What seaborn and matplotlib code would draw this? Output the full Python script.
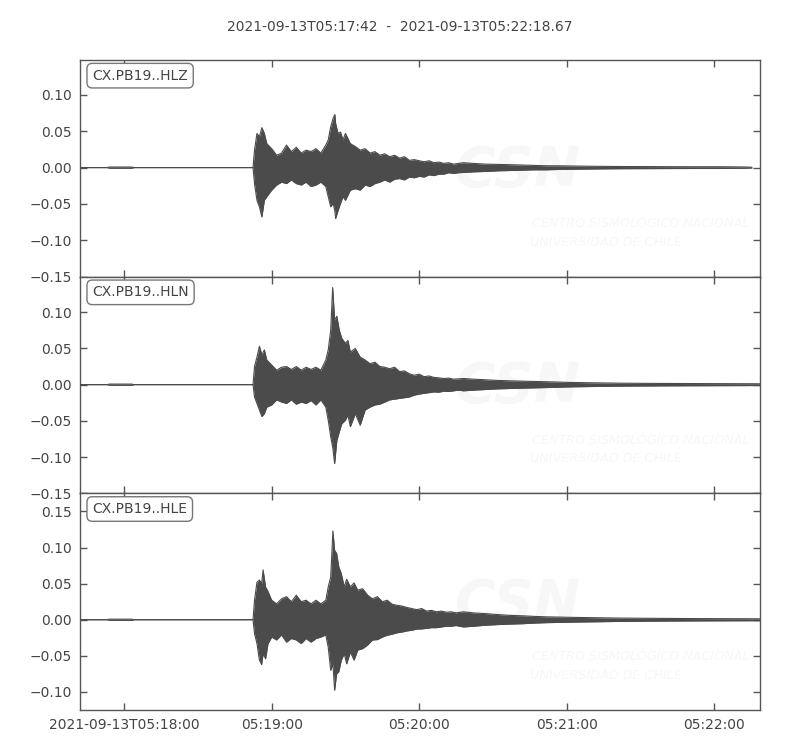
import numpy as np
import pandas as pd
import matplotlib
matplotlib.use("Agg")
import matplotlib.pyplot as plt
import seaborn as sns
from matplotlib.ticker import MultipleLocator

# ---------------- data ----------------
start_time = "2021-09-13 05:17:42"
end_time = "2021-09-13 05:22:18.67"
title_text = "2021-09-13T05:17:42  -  2021-09-13T05:22:18.67"
channels = ["CX.PB19..HLZ", "CX.PB19..HLN", "CX.PB19..HLE"]
y_limits = [(-0.15, 0.148), (-0.15, 0.149), (-0.125, 0.175)]
tick_times = ["2021-09-13 05:18:00", "2021-09-13 05:19:00", "2021-09-13 05:20:00",
              "2021-09-13 05:21:00", "2021-09-13 05:22:00"]
tick_labels = ["2021-09-13T05:18:00", "05:19:00", "05:20:00", "05:21:00", "05:22:00"]

# envelope of each trace: seconds after start, upper and lower amplitude
t_z = [0, 11, 12, 21, 22, 70.4, 71, 72, 73, 74, 75, 76,
       78, 80, 82, 84, 86, 88, 90, 92, 94, 96, 98,
       100, 101, 102, 103, 103.7, 104, 105, 106, 107, 108,
       110, 112, 114, 116, 118, 120, 122, 124, 126, 128, 130, 132, 134, 136, 138, 140,
       142, 144, 146, 148, 150, 152, 154,
       156, 160, 165, 170, 175, 180, 185, 190, 195, 200,
       210, 220, 230, 240, 250, 260, 270, 273.4]
up_z = [0, 0, 0.0008, 0.0008, 0, 0, 0.024, 0.047, 0.0425, 0.055, 0.047, 0.033,
        0.026, 0.017, 0.020, 0.031, 0.022, 0.028, 0.020, 0.024, 0.022, 0.026, 0.020,
        0.031, 0.038, 0.056, 0.068, 0.073, 0.061, 0.047, 0.049, 0.038, 0.047,
        0.033, 0.029, 0.024, 0.026, 0.020, 0.022, 0.017, 0.019, 0.015, 0.017, 0.013, 0.015, 0.010, 0.011, 0.0094, 0.008,
        0.0094, 0.0067, 0.0076, 0.0058, 0.0067, 0.0048, 0.0058,
        0.0067, 0.0058, 0.0048, 0.0044, 0.004, 0.0035, 0.003, 0.0025, 0.0025, 0.0022,
        0.0018, 0.0015, 0.0014, 0.0013, 0.0012, 0.0012, 0.0009, 0.0005]
lo_z = [0, 0, -0.0008, -0.0008, 0, 0, -0.022, -0.045, -0.054, -0.068, -0.045, -0.040,
        -0.031, -0.024, -0.020, -0.022, -0.017, -0.022, -0.024, -0.020, -0.026, -0.024, -0.020,
        -0.026, -0.040, -0.054, -0.049, -0.060, -0.070, -0.059, -0.049, -0.040, -0.045,
        -0.031, -0.029, -0.031, -0.024, -0.026, -0.022, -0.020, -0.017, -0.020, -0.016, -0.015, -0.017, -0.013, -0.014, -0.012, -0.013,
        -0.010, -0.011, -0.009, -0.009, -0.007, -0.008, -0.007,
        -0.0067, -0.0058, -0.0053, -0.0044, -0.004, -0.0035, -0.003, -0.003, -0.0025, -0.0022,
        -0.0018, -0.0015, -0.0014, -0.0013, -0.0012, -0.0012, -0.0009, -0.0005]

t_n = [0, 11, 12, 21, 22, 70.4, 71, 72, 73, 74, 75, 76,
       78, 80, 82, 84, 86, 88, 90, 92, 94, 96, 98,
       100, 101, 102, 102.8, 103.6, 104.5, 105.5, 106.5, 108, 109,
       110, 112, 114, 116, 118, 120, 122, 124, 126, 128, 130, 132, 134, 136, 138, 140,
       142, 144, 146, 148, 150, 152, 154,
       156, 160, 165, 170, 175, 180, 185, 190, 195, 200,
       210, 220, 230, 240, 250, 260, 270, 276.6]
up_n = [0, 0, 0.0008, 0.0008, 0, 0, 0.025, 0.038, 0.053, 0.041, 0.048, 0.034,
        0.027, 0.020, 0.024, 0.025, 0.021, 0.025, 0.020, 0.024, 0.021, 0.024, 0.020,
        0.034, 0.048, 0.075, 0.134, 0.089, 0.0945, 0.075, 0.064, 0.057, 0.061,
        0.045, 0.050, 0.038, 0.034, 0.029, 0.031, 0.025, 0.024, 0.022, 0.024, 0.018, 0.019, 0.015, 0.013, 0.0145, 0.011,
        0.012, 0.010, 0.0094, 0.0085, 0.009, 0.0076, 0.008,
        0.0085, 0.0076, 0.0067, 0.0058, 0.0053, 0.0048, 0.0044, 0.004, 0.0035, 0.003,
        0.0025, 0.002, 0.0018, 0.0016, 0.0015, 0.0014, 0.0013, 0.0012]
lo_n = [0, 0, -0.0008, -0.0008, 0, 0, -0.017, -0.026, -0.035, -0.044, -0.040, -0.031,
        -0.028, -0.021, -0.024, -0.026, -0.021, -0.027, -0.024, -0.026, -0.022, -0.028, -0.021,
        -0.031, -0.049, -0.072, -0.086, -0.109, -0.077, -0.065, -0.054, -0.049, -0.042,
        -0.058, -0.040, -0.056, -0.035, -0.031, -0.028, -0.027, -0.024, -0.021, -0.020, -0.019, -0.018, -0.017, -0.0145, -0.013, -0.012,
        -0.011, -0.010, -0.0104, -0.009, -0.0094, -0.0085, -0.0076,
        -0.0085, -0.0076, -0.0067, -0.0058, -0.0053, -0.0048, -0.0044, -0.004, -0.0035, -0.003,
        -0.0025, -0.002, -0.0018, -0.0016, -0.0015, -0.0014, -0.0013, -0.0012]

t_e = [0, 11, 12, 21, 22, 70.4, 71, 72, 73, 73.9, 74.5, 75.5, 76.5,
       78, 80, 82, 84, 86, 88, 90, 92, 94, 96, 98, 100,
       101, 102, 102.9, 103.6, 104.4, 105.3, 106.3, 107.5, 108.5, 110, 111.5, 113,
       115, 117, 119, 121, 123, 125, 127, 129, 131, 133, 135, 137, 139, 141, 143, 145, 147, 149, 151, 153,
       156, 160, 165, 170, 175, 180, 185, 190, 195, 200,
       210, 220, 230, 240, 250, 260, 270, 276.6]
up_e = [0, 0, 0.0008, 0.0008, 0, 0, 0.027, 0.052, 0.055, 0.050, 0.069, 0.0455, 0.039,
        0.027, 0.022, 0.029, 0.032, 0.025, 0.034, 0.025, 0.027, 0.022, 0.027, 0.022, 0.027,
        0.0455, 0.059, 0.123, 0.096, 0.092, 0.073, 0.064, 0.0455, 0.056, 0.0455, 0.051, 0.041,
        0.043, 0.034, 0.029, 0.032, 0.025, 0.027, 0.0215, 0.020, 0.019, 0.017, 0.0155, 0.014, 0.0155, 0.012, 0.013, 0.011, 0.012, 0.0104, 0.011, 0.0095,
        0.011, 0.0095, 0.0085, 0.0072, 0.006, 0.0055, 0.0046, 0.004, 0.0037, 0.0033,
        0.0028, 0.0023, 0.002, 0.0018, 0.0016, 0.0015, 0.0014, 0.0013]
lo_e = [0, 0, -0.0008, -0.0008, 0, 0, -0.019, -0.033, -0.056, -0.062, -0.047, -0.054, -0.033,
        -0.024, -0.028, -0.021, -0.031, -0.026, -0.028, -0.033, -0.026, -0.031, -0.026, -0.024, -0.021,
        -0.038, -0.070, -0.061, -0.0977, -0.075, -0.072, -0.056, -0.047, -0.061, -0.0446, -0.056, -0.042,
        -0.040, -0.035, -0.028, -0.0275, -0.024, -0.0215, -0.020, -0.018, -0.017, -0.0155, -0.0145, -0.013, -0.0127, -0.012, -0.011, -0.011, -0.010, -0.009, -0.009, -0.008,
        -0.010, -0.009, -0.0076, -0.0067, -0.006, -0.0055, -0.0046, -0.004, -0.0037, -0.0033,
        -0.0028, -0.0023, -0.002, -0.0018, -0.0016, -0.0015, -0.0014, -0.0013]

traces = [(t_z, up_z, lo_z), (t_n, up_n, lo_n), (t_e, up_e, lo_e)]

# ---------------- style ----------------
sns.set_style("ticks")
text_col = "#444444"
wave_col = "#4b4b4b"
plt.rcParams.update({
    "font.family": ["DejaVu Sans"],
    "font.size": 10,
    "text.color": text_col,
    "axes.edgecolor": "#555555",
    "axes.labelcolor": text_col,
    "xtick.color": "#555555",
    "ytick.color": "#555555",
    "xtick.labelcolor": text_col,
    "ytick.labelcolor": text_col,
    "axes.linewidth": 1.0,
})

fig, axes = plt.subplots(3, 1, figsize=(8, 7.5), dpi=100, sharex=True)
fig.subplots_adjust(left=0.1, right=0.95, top=0.92, bottom=0.0533, hspace=0)

t0 = pd.Timestamp(start_time)
t1 = pd.Timestamp(end_time)

for ax, (tt, up, lo), ch, yl in zip(axes, traces, channels, y_limits):
    n = min(len(tt), len(up), len(lo))
    df = pd.DataFrame({
        "time": t0 + pd.to_timedelta(np.array(tt[:n], dtype=float), unit="s"),
        "upper": up[:n],
        "lower": lo[:n],
    })
    # watermark (very faint)
    wm = "#f7f7f7"
    ax.text(0.552, 0.49, "CSN", transform=ax.transAxes, fontsize=40, fontweight="bold",
            fontstyle="italic", color=wm, ha="left", va="center", zorder=0, clip_on=True)
    ax.text(0.665, 0.245, "CENTRO SISMOLÓGICO NACIONAL", transform=ax.transAxes,
            fontsize=9.2, fontstyle="italic", color=wm, ha="left", va="center", zorder=0,
            clip_on=True)
    ax.text(0.662, 0.16, "UNIVERSIDAD DE CHILE", transform=ax.transAxes,
            fontsize=9.2, fontstyle="italic", color=wm, ha="left", va="center", zorder=0,
            clip_on=True)

    ax.fill_between(df["time"], df["lower"], df["upper"], color=wave_col, lw=0, zorder=2)
    sns.lineplot(data=df, x="time", y="upper", ax=ax, color=wave_col, lw=0.8, zorder=3)
    sns.lineplot(data=df, x="time", y="lower", ax=ax, color=wave_col, lw=0.8, zorder=3)

    ax.set_xlim(t0, t1)
    ax.set_ylim(*yl)
    ax.yaxis.set_major_locator(MultipleLocator(0.05))
    ax.set_xlabel("")
    ax.set_ylabel("")
    ax.tick_params(direction="in", top=True, right=True, length=5, width=1,
                   labelsize=10, pad=6)
    ax.text(0.018, 0.96, ch, transform=ax.transAxes, ha="left", va="top", fontsize=10,
            color=text_col, zorder=5,
            bbox=dict(boxstyle="round,pad=0.38", fc="white", ec="#777777", lw=1.0))
    for s in ax.spines.values():
        s.set_visible(True)

tick_pos = pd.to_datetime(tick_times)
axes[-1].set_xticks(tick_pos)
axes[-1].set_xticklabels(tick_labels)
for ax in axes[:-1]:
    ax.tick_params(labelbottom=False)

fig.suptitle(title_text, y=0.973, fontsize=10, color=text_col)
fig.savefig("out.png", dpi=100)
